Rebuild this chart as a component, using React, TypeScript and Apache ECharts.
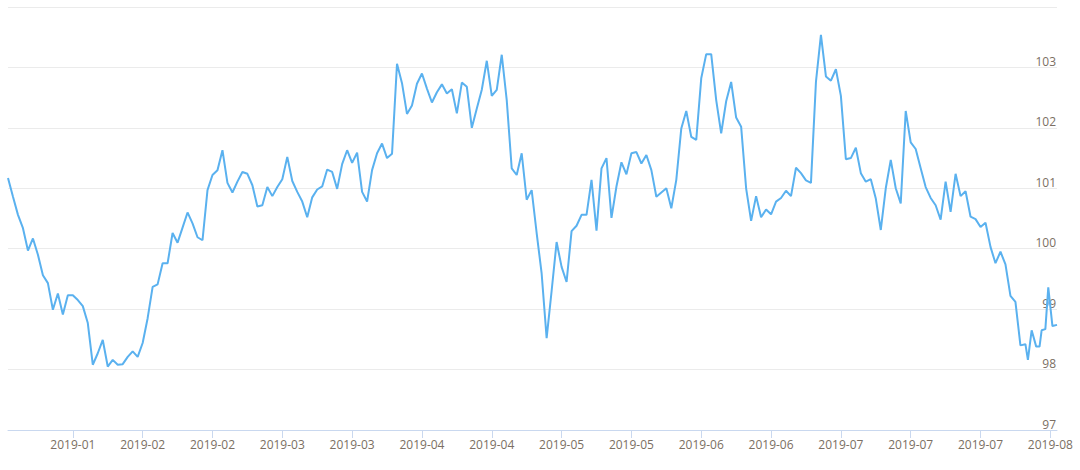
import React, { useEffect, useRef } from "react";
import * as echarts from "echarts";

// First day of the daily series
const START_DATE = "2019-01-16";

// Daily closing values, one per calendar day starting at START_DATE
const dailyValues: number[] = [
  101.17, 100.86, 100.56, 100.34, 99.97, 100.17, 99.9, 99.56, 99.43, 98.99,
  99.26, 98.91, 99.23, 99.23, 99.15, 99.05, 98.77, 98.08, 98.27, 98.49,
  98.05, 98.16, 98.08, 98.09, 98.21, 98.3, 98.21, 98.44, 98.85, 99.37,
  99.41, 99.76, 99.76, 100.26, 100.1, 100.35, 100.6, 100.42, 100.19, 100.14,
  100.97, 101.22, 101.3, 101.63, 101.09, 100.93, 101.11, 101.27, 101.24, 101.05,
  100.7, 100.72, 101.02, 100.87, 101.02, 101.15, 101.52, 101.12, 100.94, 100.78,
  100.52, 100.85, 100.98, 101.03, 101.31, 101.27, 100.99, 101.4, 101.63, 101.42,
  101.59, 100.94, 100.78, 101.3, 101.58, 101.74, 101.5, 101.57, 103.06, 102.74,
  102.23, 102.37, 102.73, 102.9, 102.65, 102.42, 102.59, 102.72, 102.57, 102.64,
  102.24, 102.75, 102.68, 102.0, 102.32, 102.63, 103.11, 102.53, 102.63, 103.21,
  102.46, 101.33, 101.22, 101.58, 100.81, 100.97, 100.26, 99.59, 98.52, 99.3,
  100.11, 99.7, 99.45, 100.29, 100.38, 100.56, 100.56, 101.14, 100.3, 101.33,
  101.5, 100.51, 101.03, 101.43, 101.23, 101.58, 101.6, 101.41, 101.55, 101.3,
  100.86, 100.93, 101.0, 100.67, 101.14, 101.99, 102.28, 101.85, 101.8, 102.82,
  103.22, 103.22, 102.46, 101.91, 102.44, 102.76, 102.17, 102.02, 101.0, 100.46,
  100.87, 100.52, 100.65, 100.57, 100.78, 100.84, 100.96, 100.87, 101.34, 101.25,
  101.13, 101.09, 102.76, 103.54, 102.85, 102.78, 102.97, 102.53, 101.48, 101.5,
  101.67, 101.25, 101.11, 101.15, 100.83, 100.31, 101.0, 101.47, 101.0, 100.75,
  102.28, 101.76, 101.65, 101.33, 101.02, 100.84, 100.72, 100.48, 101.11, 100.61,
  101.24, 100.87, 100.95, 100.53, 100.49, 100.36, 100.43, 100.03, 99.76, 99.95,
  99.74, 99.22, 99.12,
];

// Final, more frequent observations
const tailTimes: string[] = [
  "2019-08-07 00:00", "2019-08-08 00:00", "2019-08-08 12:00", "2019-08-09 06:00",
  "2019-08-10 04:00", "2019-08-10 20:00", "2019-08-11 06:00", "2019-08-12 00:00",
  "2019-08-12 14:00", "2019-08-13 10:00", "2019-08-14 08:00",
];
const tailValues: number[] = [
  98.4, 98.42, 98.16, 98.65, 98.38, 98.38, 98.65, 98.67, 99.36, 98.72, 98.74,
];

// Dates of the x-axis ticks (every 14 days)
const tickDates: string[] = [
  "2019-01-29", "2019-02-12", "2019-02-26", "2019-03-12", "2019-03-26",
  "2019-04-09", "2019-04-23", "2019-05-07", "2019-05-21", "2019-06-04",
  "2019-06-18", "2019-07-02", "2019-07-16", "2019-07-30", "2019-08-13",
];

const Y_MIN = 97;
const Y_MAX = 104;
const DAY = 86400000;

function parseUTC(s: string): number {
  const [datePart, timePart] = s.split(" ");
  const [y, m, d] = datePart.split("-").map(Number);
  let hh = 0;
  let mm = 0;
  if (timePart) {
    [hh, mm] = timePart.split(":").map(Number);
  }
  return Date.UTC(y, m - 1, d, hh, mm);
}

const START_MS = parseUTC(START_DATE);
const toDays = (s: string) => (parseUTC(s) - START_MS) / DAY;

function dayLabel(days: number): string {
  const d = new Date(START_MS + Math.round(days * DAY));
  return `${d.getUTCFullYear()}-${String(d.getUTCMonth() + 1).padStart(2, "0")}`;
}

export default function App() {
  const ref = useRef<HTMLDivElement>(null);

  useEffect(() => {
    if (!ref.current) return;
    const chart = echarts.init(ref.current, null, { renderer: "svg" });

    const data: [number, number][] = [
      ...dailyValues.map((v, i) => [i, v] as [number, number]),
      ...tailTimes.map((t, i) => [toDays(t), tailValues[i]] as [number, number]),
    ];
    const ticks = tickDates.map(toDays);
    const lastDay = data[data.length - 1][0];

    const labelColor = "#7b6f63";
    const fontFamily = "'Open Sans', sans-serif";

    chart.setOption({
      animation: false,
      grid: { left: 8, right: 23, top: 7, bottom: 40, containLabel: false },
      xAxis: {
        type: "value",
        min: 0,
        max: lastDay,
        axisLine: { show: true, lineStyle: { color: "#c9d8ef", width: 1 } },
        axisTick: {
          show: true,
          length: 8,
          customValues: ticks,
          lineStyle: { color: "#c9d8ef" },
        },
        axisLabel: {
          customValues: ticks,
          color: labelColor,
          fontSize: 12,
          fontFamily,
          margin: 8,
          formatter: (val: number) => dayLabel(val),
        },
        splitLine: { show: false },
      },
      yAxis: {
        type: "value",
        position: "right",
        min: Y_MIN,
        max: Y_MAX,
        interval: 1,
        axisLine: { show: false },
        axisTick: { show: false },
        axisLabel: {
          inside: true,
          margin: 1,
          color: labelColor,
          fontSize: 12,
          fontFamily,
          verticalAlign: "bottom",
          formatter: (v: number) => (v >= Y_MAX ? "" : String(v)),
        },
        splitLine: { show: true, lineStyle: { color: "#ebebeb", width: 1 } },
      },
      series: [
        {
          type: "line",
          data,
          showSymbol: false,
          symbol: "none",
          lineStyle: { color: "#5ab1ef", width: 2 },
          itemStyle: { color: "#5ab1ef" },
        },
      ],
    });

    return () => chart.dispose();
  }, []);

  return (
    <div
      ref={ref}
      style={{ position: "absolute", left: 0, top: 0, width: 1080, height: 470 }}
    />
  );
}
